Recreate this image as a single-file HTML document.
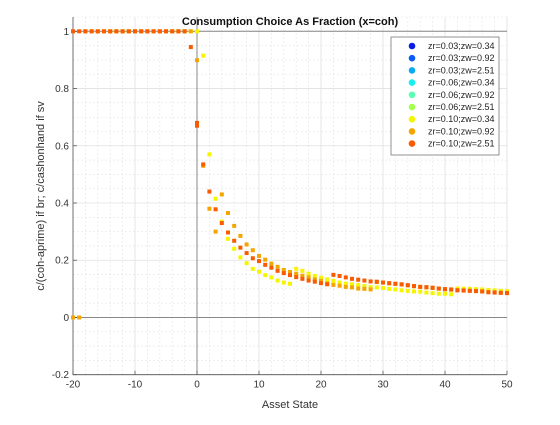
<!DOCTYPE html>
<html><head><meta charset="utf-8"><style>
body{margin:0;background:#fff;width:560px;height:420px;overflow:hidden}
svg{font-family:"Liberation Sans",sans-serif}
</style></head><body>
<svg id="chart" width="560" height="420">
<rect width="560" height="420" fill="#fff"/>
</svg>
<script>
const xTicks=[-20,-10,0,10,20,30,40,50];
const yTicks=[-0.2,0,0.2,0.4,0.6,0.8,1];
const yTickLabels=["-0.2","0","0.2","0.4","0.6","0.8","1"];
const redX=[-20,-19,-18,-17,-16,-15,-14,-13,-12,-11,-10,-9,-8,-7,-6,-5,-4,-3,-2,-1,0,0,1,2,3,4,5,6,7,8,9,10,11,12,13,14,15,16,17,18,19,20,21,22,23,24,25,26,27,28,29,30,31,32,33,34,35,36,37,38,39,40,41,42,43,44,45,46,47,48,49,50];
const redY=[1,1,1,1,1,1,1,1,1,1,1,1,1,1,1,1,1,1,1,0.945,0.67,0.68,0.535,0.44,0.378,0.33,0.297,0.268,0.244,0.225,0.207,0.197,0.184,0.174,0.163,0.155,0.148,0.141,0.135,0.129,0.125,0.12,0.116,0.149,0.145,0.14,0.135,0.132,0.129,0.126,0.125,0.122,0.12,0.118,0.116,0.113,0.11,0.107,0.106,0.104,0.101,0.099,0.098,0.095,0.094,0.093,0.092,0.091,0.088,0.087,0.086,0.085];
const orangeX=[-20,-19,-18,-17,-16,-15,-14,-13,-12,-11,-10,-9,-8,-7,-6,-5,-4,-3,-2,-1,0,1,2,3,4,5,6,7,8,9,10,11,12,13,14,15,16,17,18,19,20,21,22,23,24,25,26,27,28,29,30,31,32,33,34,35,36,37,38,39,40,41,42,43,44,45,46,47,48,49,50];
const orangeY=[0,0,1,1,1,1,1,1,1,1,1,1,1,1,1,1,1,1,1,1,0.899,0.53,0.38,0.3,0.43,0.365,0.32,0.285,0.255,0.235,0.215,0.202,0.188,0.177,0.166,0.159,0.153,0.146,0.14,0.133,0.128,0.119,0.114,0.111,0.107,0.105,0.101,0.1,0.098,0.124,0.122,0.119,0.117,0.115,0.112,0.109,0.107,0.105,0.103,0.101,0.099,0.097,0.095,0.095,0.094,0.093,0.091,0.089,0.088,0.087,0.086];
const yellowX=[-20,-19,-18,-17,-16,-15,-14,-13,-12,-11,-10,-9,-8,-7,-6,-5,-4,-3,-2,-1,0,1,2,3,4,5,6,7,8,9,10,11,12,13,14,15,16,17,18,19,20,21,22,23,24,25,26,27,28,29,30,31,32,33,34,35,36,37,38,39,40,41,42,43,44,45,46,47,48,49,50];
const yellowY=[0,0,1,1,1,1,1,1,1,1,1,1,1,1,1,1,1,1,1,1,1,0.915,0.57,0.415,0.335,0.275,0.24,0.21,0.19,0.17,0.16,0.148,0.14,0.129,0.122,0.118,0.17,0.163,0.153,0.145,0.139,0.133,0.128,0.122,0.118,0.116,0.113,0.11,0.106,0.105,0.103,0.1,0.098,0.095,0.093,0.091,0.09,0.087,0.085,0.083,0.083,0.081,0.101,0.101,0.1,0.099,0.098,0.096,0.095,0.093,0.092];
const legendLabels=["zr=0.03;zw=0.34","zr=0.03;zw=0.92","zr=0.03;zw=2.51","zr=0.06;zw=0.34","zr=0.06;zw=0.92","zr=0.06;zw=2.51","zr=0.10;zw=0.34","zr=0.10;zw=0.92","zr=0.10;zw=2.51"];
const legendColors=["#0a1ee6","#0a5af5","#0aaaf0","#14f0f0","#5affb4","#a5ff50","#f5f500","#f5a500","#fa5a00"];

const svg=document.getElementById('chart');
const NS='http://www.w3.org/2000/svg';
const L=73,R=507,T=17,B=374.7;
const X=v=>L+(v+20)/70*(R-L);
const Y=v=>B-(v+0.2)/1.25*(B-T);
function mk(tag,attrs){const e=document.createElementNS(NS,tag);for(const k in attrs)e.setAttribute(k,attrs[k]);svg.appendChild(e);return e;}
// minor grid
for(let v=-20;v<=50;v+=2){if(v%10===0)continue;const e=mk('line',{x1:X(v),x2:X(v),y1:T,y2:B,stroke:'#e4e4e4','stroke-width':0.6,'stroke-dasharray':'2,2'});

}
for(let i=-4;i<=21;i++){const v=i*0.05;if(i%4===0)continue;const e=mk('line',{x1:L,x2:R,y1:Y(v),y2:Y(v),stroke:'#e4e4e4','stroke-width':0.6,'stroke-dasharray':'2,2'});

}
// major grid
xTicks.forEach(v=>{const e=mk('line',{x1:X(v),x2:X(v),y1:T,y2:B,stroke:'#e0e0e0','stroke-width':0.8});

});
yTicks.forEach(v=>{const e=mk('line',{x1:L,x2:R,y1:Y(v),y2:Y(v),stroke:'#e0e0e0','stroke-width':0.8});

});
// zero lines
let z1=mk('line',{x1:X(0),x2:X(0),y1:T,y2:B,stroke:'#888','stroke-width':1});


let z2=mk('line',{x1:L,x2:R,y1:Y(0),y2:Y(0),stroke:'#888','stroke-width':1});


let z3=mk('line',{x1:L,x2:R,y1:Y(1),y2:Y(1),stroke:'#888','stroke-width':1});


// axes
let ax=mk('polyline',{points:`${L},${T} ${L},${B} ${R},${B}`,fill:'none',stroke:'#555','stroke-width':0.8});


xTicks.forEach(v=>{const t=mk('line',{x1:X(v),x2:X(v),y1:B,y2:B-4,stroke:'#555','stroke-width':0.8});


const s=mk('text',{x:X(v),y:B+13,'text-anchor':'middle','font-size':10,fill:'#333'});s.textContent=String(v);

});
yTicks.forEach((v,i)=>{const t=mk('line',{x1:L,x2:L+4,y1:Y(v),y2:Y(v),stroke:'#555','stroke-width':0.8});


const s=mk('text',{x:L-4,y:Y(v)+3.5,'text-anchor':'end','font-size':10,fill:'#333'});s.textContent=yTickLabels[i];

});
// series
function series(xs,ys,color,name){xs.forEach((x,i)=>{const r=mk('rect',{x:X(x)-2,y:Y(ys[i])-2,width:4,height:4,fill:color});

});}
series(yellowX,yellowY,legendColors[6],'point-zr010-zw034');
series(orangeX,orangeY,legendColors[7],'point-zr010-zw092');
series(redX,redY,legendColors[8],'point-zr010-zw251');
// title & labels
let ti=mk('text',{x:290,y:25,'text-anchor':'middle','font-size':11,'font-weight':'bold',fill:'#111'});ti.textContent='Consumption Choice As Fraction (x=coh)';


let xl=mk('text',{x:290,y:408,'text-anchor':'middle','font-size':11,fill:'#333'});xl.textContent='Asset State';


let yl=mk('text',{x:0,y:0,'text-anchor':'middle','font-size':11,fill:'#333',transform:`translate(44,196) rotate(-90)`});yl.textContent='c/(coh-aprime) if br; c/cashonhand if sv';


// legend
let lb=mk('rect',{x:391,y:37,width:108,height:118,fill:'#fff',stroke:'#777','stroke-width':0.8});


legendLabels.forEach((lab,i)=>{const cy=46+i*12.2;
const c=mk('circle',{cx:412,cy:cy,r:3.3,fill:legendColors[i]});


const t=mk('text',{x:428,y:cy+3,'font-size':9,fill:'#222'});t.textContent=lab;

});
</script>
</body></html>
